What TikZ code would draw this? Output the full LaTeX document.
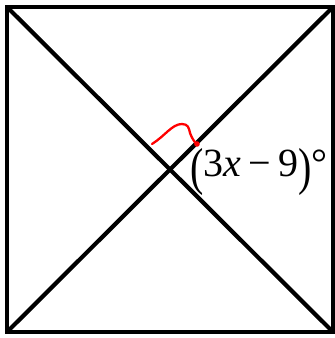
\documentclass[tikz,border=0pt]{standalone}
\usepackage{fontspec}
\setmainfont{Liberation Serif}
\usetikzlibrary{positioning}

\begin{document}
\begin{tikzpicture}[
  x=1pt, y=1pt,
  edge/.style  = {draw=black, line width=4.2pt},
  tick/.style  = {draw=red, line width=2.3pt, line cap=round, line join=round},
  lbl/.style   = {font=\fontsize{40}{44}\selectfont, inner sep=0pt, anchor=base west},
]
\useasboundingbox (0,0) rectangle (335,338);

%% ==== square corners and centre ===========================================
\coordinate (tl) at (7,331);
\coordinate (tr) at (333,331);
\coordinate (br) at (333,6);
\coordinate (bl) at (7,6);
\coordinate (c)  at (170,168.5);

%% ==== square and diagonals ================================================
\draw[edge, line join=miter] (tl) -- (tr) -- (br) -- (bl) -- cycle;
\draw[edge] (tl) -- (br);
\draw[edge] (tr) -- (bl);

%% ==== hand drawn angle mark ===============================================
\coordinate (m0) at (152,194);
\coordinate (m1) at (197,194);
\draw[tick] (m0) .. controls (165,202) and (172,214) .. (182,214)
  .. controls (188,214) and (189,210) .. (190,205)
  .. controls (192,200) and (194,196) .. (m1);
\fill[red] (m1) circle (2.8pt);

%% ==== angle label =========================================================
\node[lbl] (ang) at (190,161)
  {\raisebox{-0.2em}{\scalebox{1}[1.3]{(}}3\textit{x}\hspace{0.18em}−\hspace{0.18em}9\raisebox{-0.2em}{\scalebox{1}[1.3]{)}}°};

\end{tikzpicture}
\end{document}
